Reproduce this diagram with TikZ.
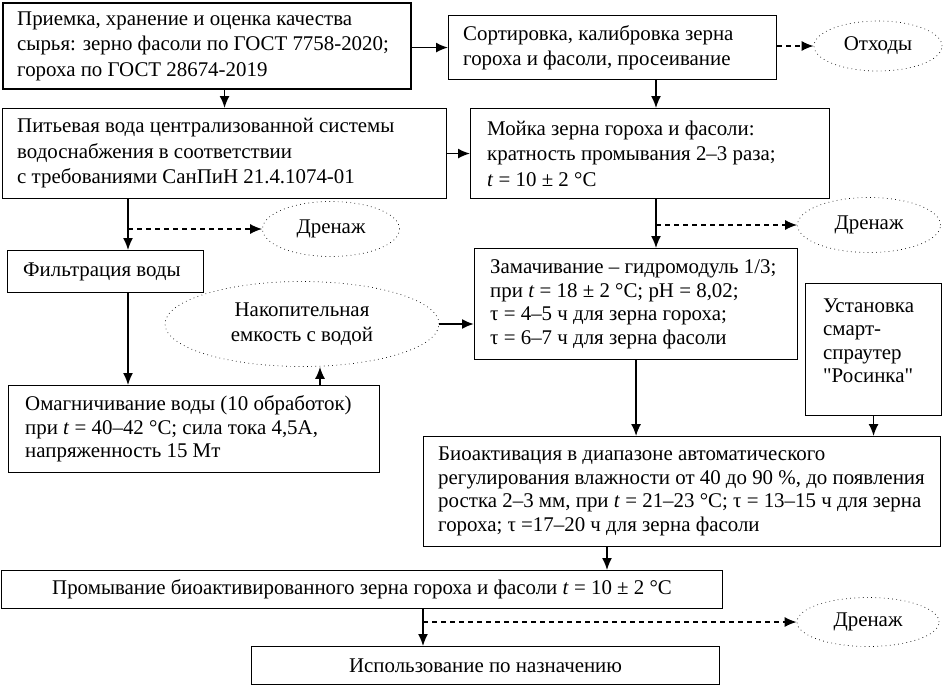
\documentclass[tikz,border=0pt]{standalone}
\usepackage{fontspec}
\setmainfont{Liberation Serif}
\newfontfamily\nomap{Liberation Serif}[Ligatures=TeXOff]
\usetikzlibrary{arrows.meta,shapes.geometric}
\tikzset{
  box/.style={draw, line width=1.1pt, rectangle, anchor=north west, inner sep=0pt},
  thickbox/.style={box, line width=2pt},
  txt/.style={anchor=west, align=left, inner sep=0pt, font=\fontsize{20.9}{25.5}\selectfont},
  txtt/.style={txt, font=\fontsize{20.9}{23.5}\selectfont},
  ctxt/.style={align=center, inner sep=0pt, font=\fontsize{20.9}{23.5}\selectfont},
  oval/.style={ellipse, draw, line width=0.7pt, dash pattern=on 0.7pt off 3.5pt, inner sep=0pt, align=center, font=\fontsize{20.9}{24.5}\selectfont},
  arr/.style={line width=1.5pt, -{Latex[length=12pt,width=10pt]}},
  darr/.style={arr, dash pattern=on 5pt off 4pt},
}
\begin{document}
\begin{tikzpicture}[x=1pt,y=-1pt]
\useasboundingbox (0,0) rectangle (945,686);
% boxes
\node[thickbox, minimum width=408pt, minimum height=86pt] (A) at (2,2) {};
\node[txt] (At) at ([xshift=15pt]A.west) {Приемка, хранение и оценка качества\\сырья: зерно фасоли по ГОСТ 7758-2020;\\гороха по ГОСТ 28674-2019};
\node[box, minimum width=328pt, minimum height=64pt] (B) at (448,15) {};
\node[txt] (Bt) at ([xshift=15pt]B.west) {Сортировка, калибровка зерна\\гороха и фасоли, просеивание};
\node[box, minimum width=444pt, minimum height=90pt] (C) at (2,108) {};
\node[txt] (Ct) at ([xshift=15pt]C.west) {Питьевая вода централизованной системы\\водоснабжения в соответствии\\с требованиями СанПиН 21.4.1074-01};
\node[box, minimum width=359pt, minimum height=90pt] (D) at (470,108) {};
\node[txt] (Dt) at ([xshift=17pt]D.west) {Мойка зерна гороха и фасоли:\\кратность промывания 2–3 раза;\\\textit{t} = 10 ± 2 °C};
\node[box, minimum width=196pt, minimum height=42pt] (E) at (7,250) {};
\node[txt] (Et) at ([xshift=16pt]E.west) {Фильтрация воды};
\node[box, minimum width=371pt, minimum height=87pt] (F) at (8,385) {};
\node[txtt] (Ft) at ([xshift=17pt]F.west) {Омагничивание воды (10 обработок)\\при \textit{t} = 40–42 °C; сила тока 4,5А,\\напряженность 15 Мт};
\node[box, minimum width=323pt, minimum height=111pt] (G) at (474,248) {};
\node[txtt] (Gt) at ([xshift=16pt]G.west) {Замачивание – гидромодуль 1/3;\\при \textit{t} = 18 ± 2 °C; pH = 8,02;\\τ = 4–5 ч для зерна гороха;\\τ = 6–7 ч для зерна фасоли};
\node[box, minimum width=136pt, minimum height=132pt] (H) at (805,283) {};
\node[txtt] (Ht) at ([xshift=18pt,yshift=9pt]H.west) {Установка\\смарт-\\спраутер\\{\nomap"}Росинка{\nomap"}};
\node[box, minimum width=517pt, minimum height=110pt] (I) at (423,436) {};
\node[txtt] (It) at ([xshift=15pt]I.west) {Биоактивация в диапазоне автоматического\\регулирования влажности от 40 до 90~\%, до появления\\ростка 2–3 мм, при \textit{t} = 21–23 °C; τ = 13–15 ч для зерна\\гороха; τ =17–20 ч для зерна фасоли};
\node[box, minimum width=721pt, minimum height=38pt] (J) at (1,570) {};
\node[ctxt] (Jt) at (J.center) {Промывание биоактивированного зерна гороха и фасоли \textit{t} = 10 ± 2 °C};
\node[box, minimum width=468pt, minimum height=38pt] (K) at (251,646) {};
\node[ctxt] (Kt) at (K.center) {Использование по назначению};
% ovals
\node[oval, minimum width=128pt, minimum height=50pt] (O) at (878,46) {Отходы};
\node[oval, minimum width=137pt, minimum height=55pt] (Dr1) at (331,229) {Дренаж};
\node[oval, minimum width=143pt, minimum height=55pt] (Dr2) at (869,225) {Дренаж};
\node[oval, minimum width=142pt, minimum height=49pt] (Dr3) at (868,622) {Дренаж};
\node[oval, minimum width=274pt, minimum height=85pt] (N) at (302,324) {Накопительная\\емкость с водой};
% helper coordinates
\coordinate (xBD) at (656,0);
\coordinate (xCE) at (128,0);
\coordinate (xFN) at (320,0);
\coordinate (xIJ) at (607,0);
\coordinate (xJK) at (423,0);
% connectors
\draw[arr] (A.east |- B.west) -- (B.west);
\draw[darr] (B.east |- O.west) -- (O.west);
\draw[arr] (A.south -| C.north) -- (C.north);
\draw[arr] (C.east) -- (D.west);
\draw[arr] (B.south -| xBD) -- (D.north -| xBD);
\draw[arr] (D.south -| xBD) -- (G.north -| xBD);
\draw[darr] (Dr2.west -| xBD) -- (Dr2.west);
\draw[arr] (C.south -| xCE) -- (E.north -| xCE);
\draw[darr] (Dr1.west -| xCE) -- (Dr1.west);
\draw[arr] (E.south -| xCE) -- (F.north -| xCE);
\draw[arr] (F.north -| xFN) -- (N.south -| xFN);
\draw[arr, line width=2pt] (N.east) -- (N.east -| G.west);
\draw[arr] (G.south) -- (G.south |- I.north);
\draw[arr] (H.south) -- (H.south |- I.north);
\draw[arr] (I.south -| xIJ) -- (J.north -| xIJ);
\draw[arr] (J.south -| xJK) -- (K.north -| xJK);
\draw[darr] (Dr3.west -| xJK) -- (Dr3.west);
\end{tikzpicture}
\end{document}
